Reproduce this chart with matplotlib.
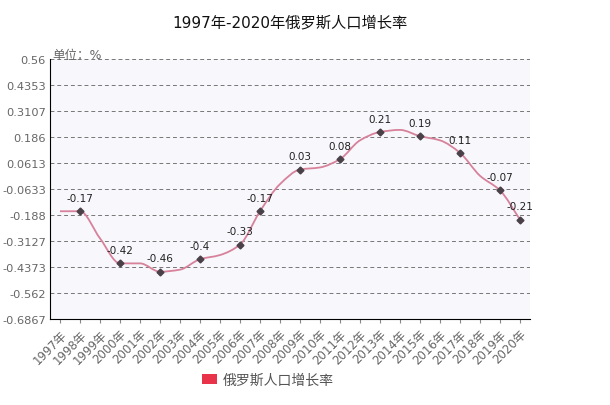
import numpy as np
import matplotlib
matplotlib.use('Agg')
import matplotlib.pyplot as plt
from matplotlib.path import Path
from matplotlib.patches import PathPatch, Patch

plt.rcParams['font.family'] = ['DejaVu Sans', 'Noto Sans CJK SC']
plt.rcParams['axes.unicode_minus'] = False

years = [f'{y}年' for y in range(1997, 2021)]
rates = [-0.17, -0.17, -0.30, -0.42, -0.42, -0.46, -0.45, -0.40, -0.38, -0.33,
         -0.17, -0.04, 0.03, 0.04, 0.08, 0.17, 0.21, 0.22, 0.19, 0.17,
         0.11, 0.0, -0.07, -0.21]
labelled = ['1998年', '2000年', '2002年', '2004年', '2006年', '2007年', '2009年',
            '2011年', '2013年', '2015年', '2017年', '2019年', '2020年']
y_ticks = [0.56, 0.4353, 0.3107, 0.186, 0.0613, -0.0633, -0.188, -0.3127,
           -0.4373, -0.562, -0.6867]
series_name = '俄罗斯人口增长率'

fig = plt.figure(figsize=(6.1, 4.06), dpi=100)
ax = fig.add_axes([50 / 610, 86 / 406, 480 / 610, 260 / 406])
ax.set_facecolor('#f7f7fc')

x = np.arange(len(years), dtype=float)
y = np.array(rates)

# monotone cubic smoothing drawn as bezier segments
d = np.diff(y)
m = np.zeros_like(y)
m[0], m[-1] = d[0], d[-1]
for i in range(1, len(y) - 1):
    if d[i - 1] * d[i] > 0:
        m[i] = 2 / (1 / d[i - 1] + 1 / d[i])
verts = [(x[0], y[0])]
codes = [Path.MOVETO]
for i in range(len(x) - 1):
    verts += [(x[i] + 1 / 3, y[i] + m[i] / 3),
              (x[i + 1] - 1 / 3, y[i + 1] - m[i + 1] / 3),
              (x[i + 1], y[i + 1])]
    codes += [Path.CURVE4] * 3
ax.add_patch(PathPatch(Path(verts, codes), facecolor='none',
                       edgecolor='#d7819a', lw=1.3, zorder=3))

idx = [years.index(l) for l in labelled]
ax.plot(x[idx], y[idx], linestyle='none', marker='D', markersize=3.5,
        color='#4a4048', zorder=4)
for i in idx:
    ax.annotate(f'{rates[i]:g}', (x[i], y[i]), xytext=(0, 6),
                textcoords='offset points', ha='center', va='bottom',
                fontsize=7.5, color='#222222')

ax.set_xlim(-0.5, len(years) - 0.5)
ax.set_ylim(y_ticks[-1], y_ticks[0])
ax.set_yticks(y_ticks)
ax.set_yticklabels([f'{v:g}' for v in y_ticks])
ax.set_xticks(x)
ax.set_xticklabels(years, rotation=45, ha='right', rotation_mode='anchor')
ax.tick_params(axis='y', length=0, pad=3, labelsize=8.2, labelcolor='#666666')
ax.tick_params(axis='x', length=3, pad=3, labelsize=8.5, labelcolor='#666666',
               color='#888888')
ax.grid(axis='y', linestyle=(0, (4, 3)), color='#777777', lw=0.7)
ax.set_axisbelow(True)
for s in ['top', 'right']:
    ax.spines[s].set_visible(False)
ax.spines['left'].set_color('black')
ax.spines['bottom'].set_color('black')

fig.text(290 / 610, 1 - 23 / 406, '1997年-2020年俄罗斯人口增长率', ha='center',
         va='center', fontsize=11, color='#111111')
fig.text(52 / 610, 1 - 55 / 406, '单位：%', ha='left', va='center',
         fontsize=9, color='#666666')

fig.legend(handles=[Patch(facecolor='#e8334a', label=series_name)],
           loc='center', bbox_to_anchor=(268 / 610, 1 - 381 / 406),
           frameon=False, fontsize=10, handlelength=1.1, handleheight=0.8,
           handletextpad=0.4, labelcolor='#555555')

fig.savefig('out.png', dpi=100)
